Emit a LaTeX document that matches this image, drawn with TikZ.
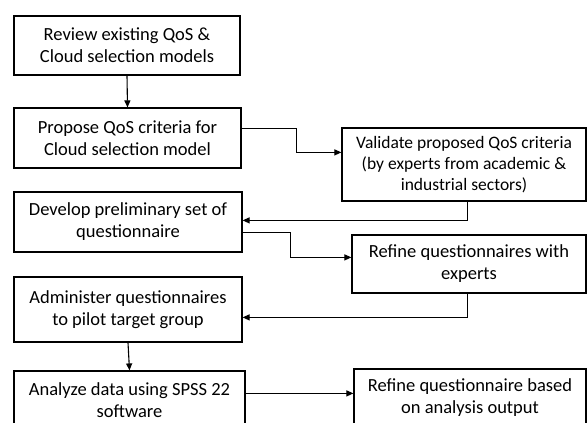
\documentclass[tikz,border=0pt]{standalone}
\usepackage{fontspec}
\setmainfont{Carlito}
\usetikzlibrary{arrows.meta,calc}
\begin{document}
\begin{tikzpicture}[x=1pt,y=-1pt,
  box/.style={draw=black,line width=1.2pt,rectangle,align=center,inner sep=0pt,
    font=\fontsize{18.5}{22}\selectfont},
  sbox/.style={box,font=\fontsize{17.5}{21}\selectfont},
  arr/.style={line width=1.1pt,-{Triangle[length=7pt,width=6pt]}},
  ln/.style={line width=1.1pt}]
\clip (0,0) rectangle (587,423);
\fill[white] (0,0) rectangle (587,423);
\node[box,minimum width=226pt,minimum height=59pt] (b1) at (127,45.5) {Review existing QoS \&\\Cloud selection models};
\node[box,minimum width=227pt,minimum height=60pt] (b2) at (127.5,138) {Propose QoS criteria for\\Cloud selection model};
\node[box,minimum width=228pt,minimum height=60pt] (b3) at (128,222) {Develop preliminary set of\\questionnaire};
\node[box,minimum width=228pt,minimum height=65pt] (b4) at (128,309.5) {Administer questionnaires\\to pilot target group};
\node[box,minimum width=231pt,minimum height=58pt] (b5) at (129.5,400) {Analyze data using SPSS 22\\software};
\node[sbox,minimum width=244pt,minimum height=73pt] (v) at (464,164.5) {Validate proposed QoS criteria\\(by experts from academic \&\\industrial sectors)};
\node[box,minimum width=234pt,minimum height=58pt] (r1) at (469,264) {Refine questionnaires with\\experts};
\node[box,minimum width=232pt,minimum height=58pt] (r2) at (470,398) {Refine questionnaire based\\on analysis output};
\draw[arr] (b1.south) -- (b2.north);
\draw[arr] (b4.south) -- (b5.north);
\draw[arr] ($(b2.north east)+(0,21)$) -- ++(55,0) |- ($(v.north west)+(0,25)$);
\draw[arr] ($(v.south west)+(126,0)$) |- ($(b3.north east)+(0,29)$);
\draw[arr] ($(b3.north east)+(0,41)$) -- ++(48,0) |- ($(r1.north west)+(0,23)$);
\draw[arr] ($(r1.south west)+(116,0)$) |- ($(b4.north east)+(0,41)$);
\coordinate (c5) at ($(b5.north east)+(0,23)$);
\draw[arr] (c5) -- (r2.west |- c5);
\end{tikzpicture}
\end{document}
